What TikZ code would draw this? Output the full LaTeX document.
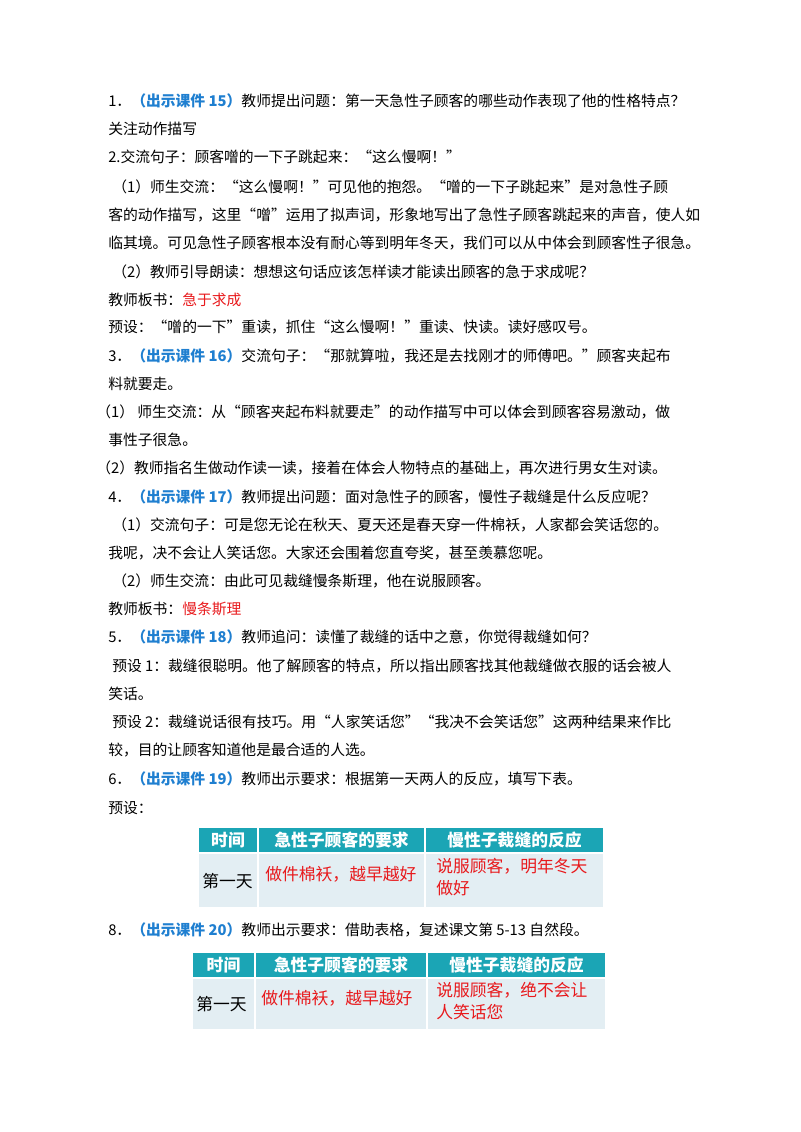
\documentclass[tikz,border=0pt]{standalone}
\usepackage{fontspec}
\setmainfont{Noto Sans CJK SC}
\newfontfamily\cjk{Noto Sans CJK SC}
\definecolor{kblue}{HTML}{1F7FD0}
\definecolor{kred}{HTML}{E8191C}
\definecolor{thead}{HTML}{1BA5B5}
\definecolor{tbody}{HTML}{E3EEF3}
\newcommand{\kj}[1]{\textcolor{kblue}{\bfseries #1}}
\newcommand{\rd}[1]{\textcolor{kred}{#1}}
\begin{document}
\begin{tikzpicture}[x=0.75pt,y=-0.75pt,
  t/.style={anchor=west,inner sep=0,font=\fontsize{11.1pt}{13pt}\selectfont},
  th/.style={anchor=center,inner sep=0,text=white,font=\fontsize{12.6pt}{14pt}\selectfont\bfseries},
  tc/.style={anchor=west,inner sep=0,align=left,font=\fontsize{12.6pt}{16pt}\selectfont},
  hdr/.style={fill=thead,draw=white,line width=1pt},
  bdy/.style={fill=tbody,draw=white,line width=1pt}]
\useasboundingbox (0,0) rectangle (800,1132);
\node[t] (l1) at (108,101) {1．\kj{（出示课件 15）}教师提出问题：第一天急性子顾客的哪些动作表现了他的性格特点？};
\node[t] (l2) at (108,129) {关注动作描写};
\node[t] (l3) at (108,157) {2.交流句子：顾客噌的一下子跳起来：“这么慢啊！”};
\node[t] (l4) at (112,187) {（1）师生交流：“这么慢啊！”可见他的抱怨。“噌的一下子跳起来”是对急性子顾};
\node[t] (l5) at (108,215) {客的动作描写，这里“噌”运用了拟声词，形象地写出了急性子顾客跳起来的声音，使人如};
\node[t] (l6) at (108,243) {临其境。可见急性子顾客根本没有耐心等到明年冬天，我们可以从中体会到顾客性子很急。};
\node[t] (l7) at (112,272) {（2）教师引导朗读：想想这句话应该怎样读才能读出顾客的急于求成呢？};
\node[t] (l8) at (108,300) {教师板书：\rd{急于求成}};
\node[t] (l9) at (108,327) {预设：“噌的一下”重读，抓住“这么慢啊！”重读、快读。读好感叹号。};
\node[t] (l10) at (108,356) {3．\kj{（出示课件 16）}交流句子：“那就算啦，我还是去找刚才的师傅吧。”顾客夹起布};
\node[t] (l11) at (108,384) {料就要走。};
\node[t] (l12) at (96,412) {（1） 师生交流：从“顾客夹起布料就要走”的动作描写中可以体会到顾客容易激动，做};
\node[t] (l13) at (108,440) {事性子很急。};
\node[t] (l14) at (96,468) {（2）教师指名生做动作读一读，接着在体会人物特点的基础上，再次进行男女生对读。};
\node[t] (l15) at (108,497) {4．\kj{（出示课件 17）}教师提出问题：面对急性子的顾客，慢性子裁缝是什么反应呢？};
\node[t] (l16) at (112,525) {（1）交流句子：可是您无论在秋天、夏天还是春天穿一件棉袄，人家都会笑话您的。};
\node[t] (l17) at (108,553) {我呢，决不会让人笑话您。大家还会围着您直夸奖，甚至羡慕您呢。};
\node[t] (l18) at (112,581) {（2）师生交流：由此可见裁缝慢条斯理，他在说服顾客。};
\node[t] (l19) at (108,609) {教师板书：\rd{慢条斯理}};
\node[t] (l20) at (108,637) {5．\kj{（出示课件 18）}教师追问：读懂了裁缝的话中之意，你觉得裁缝如何？};
\node[t] (l21) at (112,666) {预设 1：裁缝很聪明。他了解顾客的特点，所以指出顾客找其他裁缝做衣服的话会被人};
\node[t] (l22) at (108,694) {笑话。};
\node[t] (l23) at (112,722) {预设 2：裁缝说话很有技巧。用“人家笑话您”“我决不会笑话您”这两种结果来作比};
\node[t] (l24) at (108,750) {较，目的让顾客知道他是最合适的人选。};
\node[t] (l25) at (108,779) {6．\kj{（出示课件 19）}教师出示要求：根据第一天两人的反应，填写下表。};
\node[t] (l26) at (108,808) {预设：};
% table 1
\path[hdr] (198,827) rectangle (258,853); \path[hdr] (258,827) rectangle (425,853); \path[hdr] (425,827) rectangle (604,853);
\path[bdy] (198,853) rectangle (258,908); \path[bdy] (258,853) rectangle (425,908); \path[bdy] (425,853) rectangle (604,908);
\node[th] (a1) at (228,840) {时间};
\node[th] (a2) at (341.5,840) {急性子顾客的要求};
\node[th] (a3) at (514.5,840) {慢性子裁缝的反应};
\node[tc] (a4) at (202,881) {第一天};
\node[tc,text=kred] (a5) at (265,874) {做件棉袄，越早越好};
\node[tc,text=kred,text width=170pt] (a6) at (436,877) {说服顾客，明年冬天\\做好};
\node[t] (l27) at (108,930) {8．\kj{（出示课件 20）}教师出示要求：借助表格，复述课文第 5-13 自然段。};
% table 2
\path[hdr] (192,952) rectangle (255,978); \path[hdr] (255,952) rectangle (427,978); \path[hdr] (427,952) rectangle (606,978);
\path[bdy] (192,978) rectangle (255,1030); \path[bdy] (255,978) rectangle (427,1030); \path[bdy] (427,978) rectangle (606,1030);
\node[th] (b1) at (223.5,965) {时间};
\node[th] (b2) at (341,965) {急性子顾客的要求};
\node[th] (b3) at (516.5,965) {慢性子裁缝的反应};
\node[tc] (b4) at (196,1004) {第一天};
\node[tc,text=kred] (b5) at (261,998) {做件棉袄，越早越好};
\node[tc,text=kred,text width=170pt] (b6) at (436,1001) {说服顾客，绝不会让\\人笑话您};
\end{tikzpicture}
\end{document}
